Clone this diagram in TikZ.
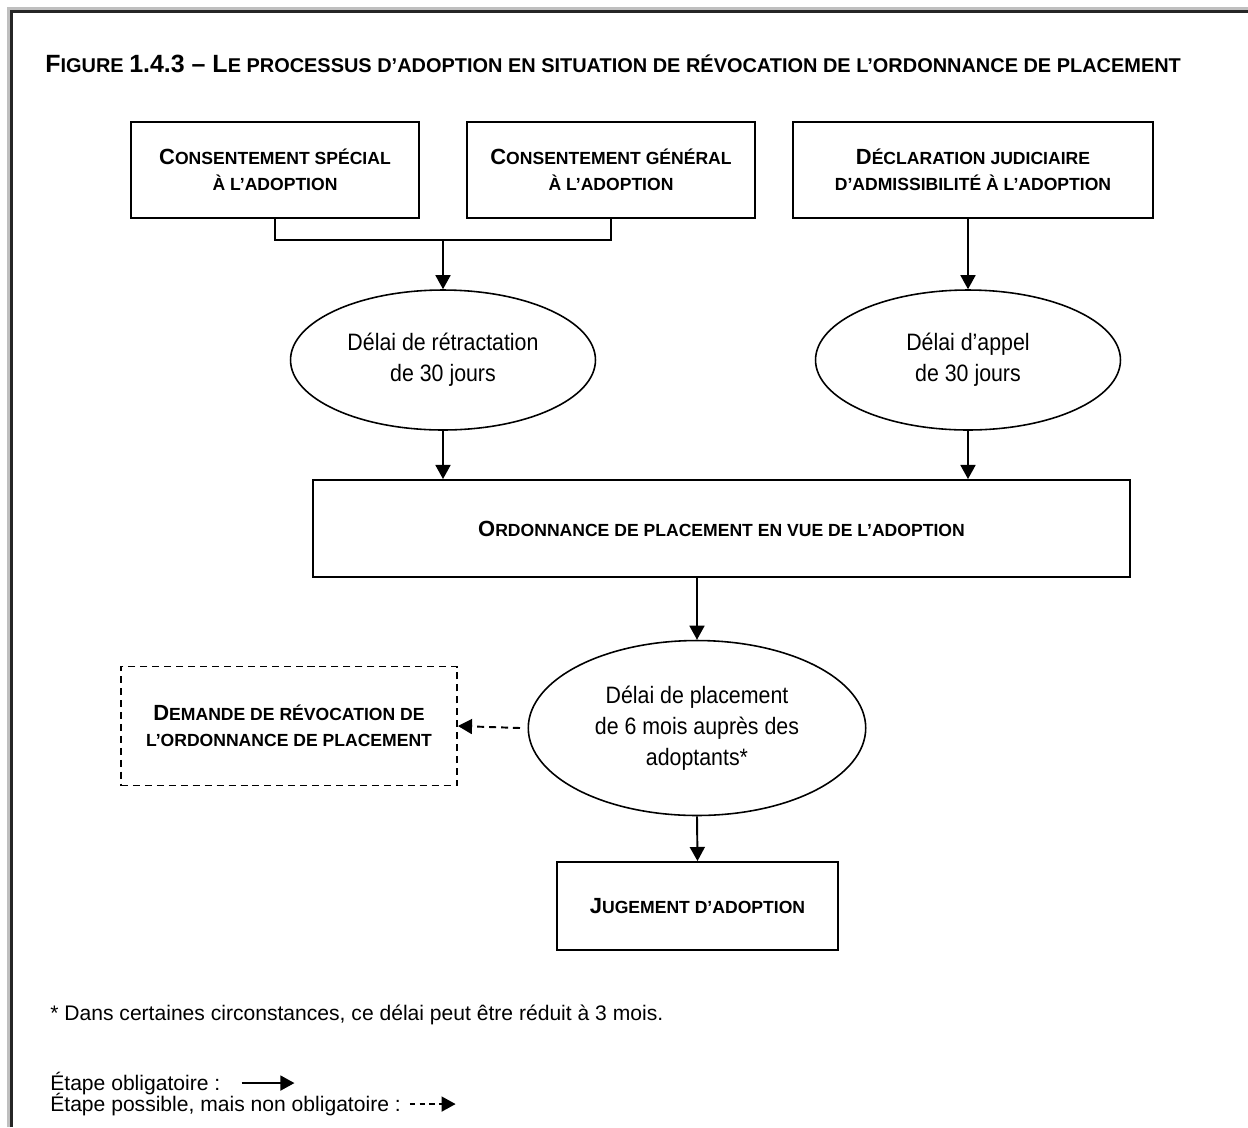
\documentclass[tikz,border=0pt]{standalone}
\usepackage{fontspec}
\setmainfont{Liberation Sans}
\newfontfamily\narrowfont[FakeStretch=0.9]{Liberation Sans}
\usetikzlibrary{shapes.geometric,arrows.meta}

\newcommand{\capbox}[1]{{\fontsize{12.5pt}{14.5pt}\selectfont #1}}
\newcommand{\captitre}[1]{{\fontsize{14.2pt}{16pt}\selectfont #1}}

\tikzset{
  etape/.style={draw, line width=1.1pt, align=center, inner sep=0pt,
    font=\fontsize{10pt}{14.5pt}\selectfont\bfseries},
  delai/.style={draw, ellipse, line width=0.9pt, align=center, inner sep=0pt,
    font=\narrowfont\fontsize{13.5pt}{17.6pt}\selectfont},
  fleche/.style={line width=1.1pt, -{Triangle[length=8pt,width=8.5pt]}},
  facultatif/.style={fleche, dash pattern=on 4pt off 2.8pt},
  note/.style={anchor=base west, inner sep=0pt, font=\fontsize{12pt}{14pt}\selectfont},
}

\begin{document}
\begin{tikzpicture}[x=0.02cm, y=-0.02cm]
  \useasboundingbox (0,0) rectangle (1248,1127);
  % Frame
  \draw[gray!50, line width=1.5pt] (8.7,1127) -- (8.7,8.7) -- (1248,8.7);
  \draw[black!85, line width=1.7pt] (11.5,1127) -- (11.5,11.5) -- (1248,11.5);

  % Title
  \node[anchor=base west, inner sep=0pt, font=\fontsize{11.35pt}{13pt}\selectfont\bfseries] (titre) at (45,72)
    {\captitre{F}IGURE \captitre{1.4.3 – L}E PROCESSUS D’ADOPTION EN SITUATION DE RÉVOCATION DE L’ORDONNANCE DE PLACEMENT};

  % Consents and declaration
  \node[etape, minimum width=5.76cm, minimum height=1.92cm] (special) at (275,170) {\capbox{C}ONSENTEMENT SPÉCIAL\\À L’ADOPTION};
  \node[etape, minimum width=5.76cm, minimum height=1.92cm] (general) at (611,170) {\capbox{C}ONSENTEMENT GÉNÉRAL\\À L’ADOPTION};
  \node[etape, minimum width=7.2cm, minimum height=1.92cm] (declaration) at (973,170) {\capbox{D}ÉCLARATION JUDICIAIRE\\D’ADMISSIBILITÉ À L’ADOPTION};

  % Waiting periods
  \node[delai, minimum width=6.1cm, minimum height=2.8cm] (retractation) at (443,360) {Délai de rétractation\\de 30 jours};
  \node[delai, minimum width=6.1cm, minimum height=2.8cm] (appel) at (968,360) {Délai d’appel\\de 30 jours};

  % Placement
  \node[etape, minimum width=16.34cm, minimum height=1.94cm] (ordonnance) at (721.5,528.5) {\capbox{O}RDONNANCE DE PLACEMENT EN VUE DE L’ADOPTION};
  \node[delai, minimum width=6.75cm, minimum height=3.5cm] (placement) at (697,728) {Délai de placement\\de 6 mois auprès des\\adoptants*};
  \node[etape, dash pattern=on 4pt off 2.8pt, minimum width=6.72cm, minimum height=2.38cm] (revocation) at (289,726) {\capbox{D}EMANDE DE RÉVOCATION DE\\L’ORDONNANCE DE PLACEMENT};
  \node[etape, minimum width=5.62cm, minimum height=1.76cm] (jugement) at (697.5,906) {\capbox{J}UGEMENT D’ADOPTION};

  % Connectors
  \coordinate (jonction) at (443,240);
  \draw[line width=1.1pt] (special.south) |- (jonction) -| (general.south);
  \draw[fleche] (jonction) -- (retractation.north);
  \draw[fleche] (declaration.south -| appel.north) -- (appel.north);
  \draw[fleche] (retractation.south) -- (retractation.south |- ordonnance.north);
  \draw[fleche] (appel.south) -- (appel.south |- ordonnance.north);
  \draw[fleche] (ordonnance.south -| placement.north) -- (placement.north);
  \draw[fleche] (placement.south) -- (jugement.north);
  \draw[facultatif] ([xshift=-0.15cm]placement.west) -- (revocation.east);

  % Footnote and legend
  \node[note] (renvoi) at (50,1020) {* Dans certaines circonstances, ce délai peut être réduit à 3 mois.};
  \node[note] (obligatoire) at (50,1090) {Étape obligatoire :};
  \node[note] (possible) at (50,1111) {Étape possible, mais non obligatoire :};
  \coordinate (o1) at ([xshift=12pt]obligatoire.east);
  \coordinate (o2) at ([xshift=30pt]o1);
  \draw[fleche] (o1) -- (o2);
  \coordinate (p1) at ([xshift=5pt]possible.east);
  \coordinate (p2) at ([xshift=26pt]p1);
  \draw[facultatif, dash pattern=on 3pt off 2.5pt] (p1) -- (p2);
\end{tikzpicture}
\end{document}
